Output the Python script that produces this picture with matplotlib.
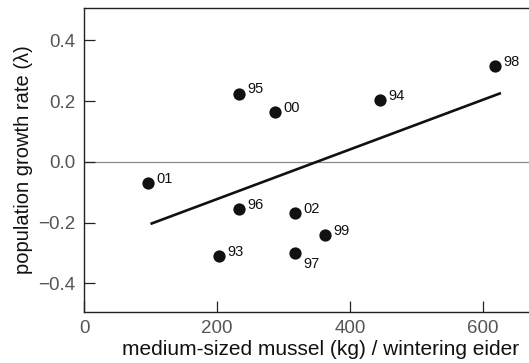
import matplotlib
matplotlib.use("Agg")
import matplotlib.pyplot as plt

mussel = [96, 233, 287, 445, 618, 233, 317, 362, 317, 203]
growth = [-0.07, 0.225, 0.165, 0.204, 0.316, -0.155, -0.168, -0.24, -0.30, -0.31]
years = ["01", "95", "00", "94", "98", "96", "02", "99", "97", "93"]
fit_x = [100, 627]
fit_y = [-0.204, 0.227]
xticks = [0, 200, 400, 600]
yticks = [-0.4, -0.2, 0.0, 0.2, 0.4]

plt.rcParams['font.family'] = ['Liberation Sans', 'DejaVu Sans']

fig = plt.figure(figsize=(5.29, 3.63), dpi=100)
# axes extends slightly past the right edge of the figure (cropped in the reference)
ax = fig.add_axes([84/529, 51/363, (558 - 84)/529, (312 - 8)/363])
ax.set_xlim(0, (558 - 84) / 0.665)
ax.set_ylim(-0.494, 0.507)

ax.axhline(0, color='#8a8a8a', lw=0.9, zorder=1)
ax.plot(fit_x, fit_y, color='#111111', lw=1.9, solid_capstyle='butt', zorder=2)
ax.scatter(mussel, growth, s=78, color='#111111', zorder=3, linewidths=0)

for x, y, t in zip(mussel, growth, years):
    if t == "97":
        ax.annotate(t, (x, y), xytext=(6, -8), textcoords='offset points',
                    fontsize=10.5, color='#111111', va='center', ha='left')
    else:
        ax.annotate(t, (x, y), xytext=(6, 3), textcoords='offset points',
                    fontsize=10.5, color='#111111', va='center', ha='left')

ax.set_xticks(xticks)
ax.set_yticks(yticks)
ax.set_xticklabels([str(v) for v in xticks])
ax.set_yticklabels(["\u22120.4", "\u22120.2", "0.0", "0.2", "0.4"])
ax.tick_params(direction='in', length=8, width=0.9, colors='#222222',
               labelcolor='#555555', labelsize=13.5, pad=6)
for s in ['left', 'bottom', 'top']:
    ax.spines[s].set_linewidth(1.0)
    ax.spines[s].set_color('#222222')
ax.spines['right'].set_visible(False)

ax.set_xlabel("medium-sized mussel (kg) / wintering eider", fontsize=15,
              color='#111111', labelpad=2)
ax.set_ylabel("population growth rate (\u03bb)", fontsize=14.5,
              color='#111111', labelpad=4)

fig.savefig("out.png", dpi=100)
